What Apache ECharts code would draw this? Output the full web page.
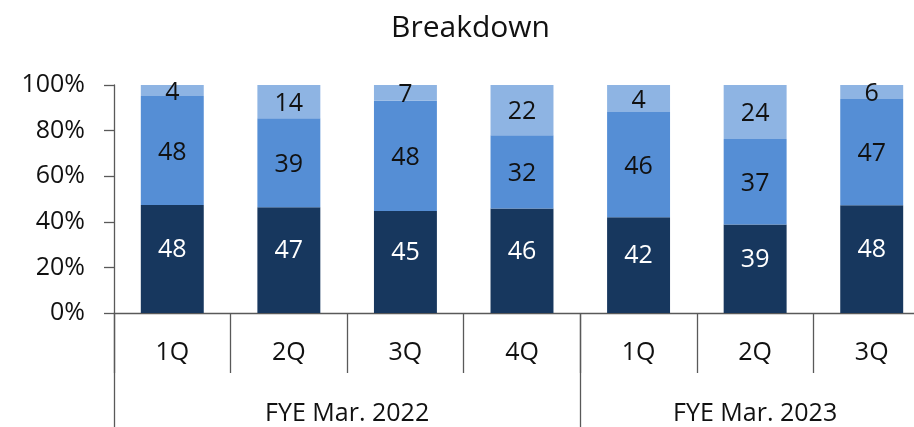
<!DOCTYPE html>
<html>
<head>
<meta charset="utf-8">
<script src="https://cdn.jsdelivr.net/npm/echarts@6/dist/echarts.min.js"></script>
<style>
  html, body { margin: 0; padding: 0; background: #fff; }
  #chart { width: 914px; height: 427px; }
</style>
</head>
<body>
<div id="chart"></div>
<script>
var quarters = ['1Q', '2Q', '3Q', '4Q', '1Q', '2Q', '3Q'];
// group labels sit on half-steps of a boundaryGap:false axis (15 points, 0..7)
var groups = ['', '', '', '', 'FYE Mar. 2022', '', '', '', '', '', '', 'FYE Mar. 2023', '', '', ''];

// segment heights (%)
var darkPart = [47.4, 46.4, 44.7, 45.8, 42.0, 38.8, 47.3];
var midPart = [47.8, 39.0, 48.4, 32.2, 46.2, 37.5, 46.6];
var lightPart = [4.8, 14.6, 6.9, 22.0, 11.8, 23.7, 6.1];

// numbers printed on the segments
var darkLabels = [48, 47, 45, 46, 42, 39, 48];
var midLabels = [48, 39, 48, 32, 46, 37, 47];
var lightLabels = [4, 14, 7, 22, 4, 24, 6];

var yTicks = [0, 20, 40, 60, 80, 100];

var font = 'Open Sans';
var lineColor = '#595959';

var chart = echarts.init(document.getElementById('chart'), null, { renderer: 'canvas' });

function seg(name, values, labels, color, textColor, offset) {
  return {
    name: name,
    type: 'bar',
    stack: 'all',
    barWidth: '54%',
    itemStyle: { color: color },
    label: {
      show: true,
      position: 'inside',
      offset: offset,
      color: textColor,
      fontFamily: font,
      fontSize: 25,
      formatter: function (p) { return labels[p.dataIndex]; }
    },
    data: values
  };
}

var option = {
  backgroundColor: '#fff',
  animation: false,
  title: {
    text: 'Breakdown',
    left: 386,
    top: 8,
    textStyle: { fontFamily: font, fontSize: 30, fontWeight: 'normal', color: '#111' }
  },
  grid: {
    left: 114,
    top: 85,
    width: 816,
    height: 228,
    outerBoundsMode: 'none'
  },
  xAxis: [
    {
      type: 'category',
      data: quarters,
      position: 'bottom',
      axisLine: { show: true, lineStyle: { color: lineColor, width: 1.3 } },
      axisTick: { show: true, interval: 0, length: 60, lineStyle: { color: lineColor, width: 1.3 } },
      axisLabel: { interval: 0, margin: 27, fontFamily: font, fontSize: 25, color: '#111' }
    },
    {
      type: 'category',
      data: groups,
      boundaryGap: false,
      position: 'bottom',
      offset: 0,
      axisLine: { show: false },
      axisTick: {
        show: true,
        length: 130,
        interval: function (i) { return i === 0 || i === 8 || i === 14; },
        lineStyle: { color: lineColor, width: 1.3 }
      },
      axisLabel: {
        interval: function (i) { return i === 4 || i === 11; },
        margin: 88,
        fontFamily: font,
        fontSize: 25,
        color: '#111'
      }
    }
  ],
  yAxis: {
    type: 'value',
    min: yTicks[0],
    max: yTicks[yTicks.length - 1],
    interval: 20,
    axisLine: { show: true, lineStyle: { color: lineColor, width: 1.3 } },
    axisTick: { show: true, length: 10, lineStyle: { color: lineColor, width: 1.3 } },
    splitLine: { show: false },
    axisLabel: { margin: 29, fontFamily: font, fontSize: 25, color: '#111', formatter: '{value}%' }
  },
  series: [
    seg('dark', darkPart, darkLabels, '#17375e', '#fff', [0, -9]),
    seg('mid', midPart, midLabels, '#558ed5', '#111', [0, 2]),
    seg('light', lightPart, lightLabels, '#8eb4e3', '#111', [0, 2])
  ]
};

chart.setOption(option);
</script>
</body>
</html>
